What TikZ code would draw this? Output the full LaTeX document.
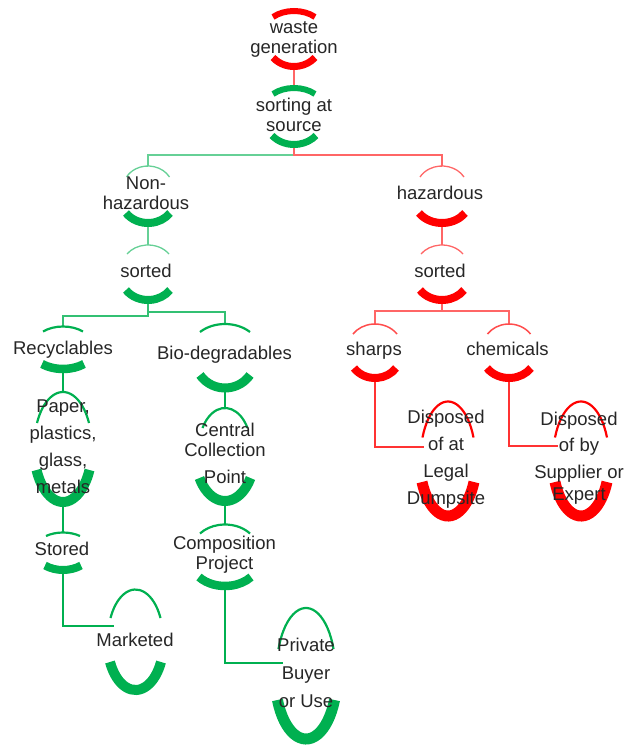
\documentclass[tikz,border=0pt]{standalone}
\usepackage{fontspec}
\setmainfont{Liberation Sans}
\usetikzlibrary{calc}
\definecolor{mgreen}{HTML}{00B050}
\definecolor{mred}{HTML}{FF0000}
\definecolor{ink}{HTML}{262626}
% strut fixing the height and depth of the first and last text line
\newcommand\lblstrut{\rule[-4.5pt]{0pt}{18pt}}
% upper arc: style, peak point, half chord, rise, parameter angle
\newcommand\toparc[5]{%
  \pgfmathsetmacro\arcrx{#3/cos(#5)}%
  \pgfmathsetmacro\arcry{#4/(1-sin(#5))}%
  \draw[#1] ($(#2)+(#3,-#4)$) arc[start angle=#5, end angle=180-#5, x radius=\arcrx, y radius=\arcry];
}
% lower arc: style, lowest point, half chord, rise, parameter angle
\newcommand\botarc[5]{%
  \pgfmathsetmacro\arcrx{#3/cos(#5)}%
  \pgfmathsetmacro\arcry{#4/(1-sin(#5))}%
  \draw[#1] ($(#2)+(-#3,#4)$) arc[start angle=180+#5, end angle=360-#5, x radius=\arcrx, y radius=\arcry];
}
\begin{document}
\begin{tikzpicture}[x=1pt,y=1pt,
  lbl/.style={align=center, inner sep=0pt, text=ink, font=\fontsize{18.5}{20}\selectfont},
  wide/.style={font=\fontsize{18.5}{26.7}\selectfont},
  glight/.style={draw=mgreen!60!white, line width=1.3},
  gmid/.style={draw=mgreen!80!white, line width=1.5},
  gline/.style={draw=mgreen, line width=2},
  rlight/.style={draw=mred!60!white, line width=1.3},
  rline/.style={draw=mred!80!white, line width=1.5},
  garc/.style={draw=mgreen},
  rarc/.style={draw=mred},
  ]
\useasboundingbox (0,0) rectangle (624,-745);

% anchor points: top and bottom of each pair of arcs
\coordinate (wg-n) at (294,-11);
\coordinate (wg-s) at (294,-66.5);
\coordinate (sa-n) at (294,-88);
\coordinate (sa-s) at (294,-144.5);
\coordinate (bus1) at (294,-155);
\coordinate (nh-n) at (148,-166);
\coordinate (nh-s) at (148,-223);
\coordinate (hz-n) at (442,-166);
\coordinate (hz-s) at (442,-223);
\coordinate (sg-n) at (148,-245);
\coordinate (sg-s) at (148,-300);
\coordinate (sr-n) at (442,-245);
\coordinate (sr-s) at (442,-300);
\coordinate (busg1) at (148,-316);
\coordinate (busg2) at (148,-312);
\coordinate (busr) at (442,-311);
\coordinate (rec-n) at (63,-326.5);
\coordinate (rec-s) at (63,-369);
\coordinate (bio-n) at (225,-324);
\coordinate (bio-s) at (225,-388);
\coordinate (pap-n) at (63,-392);
\coordinate (pap-s) at (63,-502);
\coordinate (ccp-n) at (225,-408);
\coordinate (ccp-s) at (225,-501);
\coordinate (sto-n) at (63,-532.5);
\coordinate (sto-s) at (63,-570);
\coordinate (cmp-n) at (225,-524.5);
\coordinate (cmp-s) at (225,-586);
\coordinate (mkt-n) at (135.5,-589.5);
\coordinate (mkt-s) at (135.5,-690);
\coordinate (mkt-in) at (114,-626);
\coordinate (pvt-n) at (306,-608);
\coordinate (pvt-s) at (306,-739);
\coordinate (pvt-in) at (283,-663);
\coordinate (sh-n) at (375,-324);
\coordinate (sh-s) at (375,-378);
\coordinate (ch-n) at (509,-324);
\coordinate (ch-s) at (509,-378);
\coordinate (dl-n) at (448,-401.5);
\coordinate (dl-s) at (448,-516);
\coordinate (dl-in) at (424,-447);
\coordinate (ds-n) at (581,-401.5);
\coordinate (ds-s) at (581,-516);
\coordinate (ds-in) at (558,-446);

% connectors
\draw[rlight] (wg-s) -- (sa-n);
\draw[glight] (sa-s) -- (bus1) -| (nh-n);
\draw[rlight] (sa-s) -- (bus1) -| (hz-n);
\draw[glight] (nh-s) -- (sg-n);
\draw[rlight] (hz-s) -- (sr-n);
\draw[gmid] (sg-s) -- (busg1) -| (rec-n);
\draw[gmid] (sg-s) -- (busg2) -| (bio-n);
\draw[rlight] (sr-s) -- (busr) -| (sh-n);
\draw[rlight] (sr-s) -- (busr) -| (ch-n);
\draw[gline] (rec-s) -- (pap-n);
\draw[gline] (pap-s) -- (sto-n);
\draw[gline] (bio-s) -- (ccp-n);
\draw[gline] (ccp-s) -- (cmp-n);
\draw[gline] (sto-s) |- (mkt-in);
\draw[gline] (cmp-s) |- (pvt-in);
\draw[rline] (sh-s) |- (dl-in);
\draw[rline] (ch-s) |- (ds-in);

% arcs
\toparc{rarc, line width=6}{wg-n}{21}{6}{45}
\botarc{rarc, line width=7}{wg-s}{21}{9}{40}
\toparc{garc, line width=6}{sa-n}{21}{6}{45}
\botarc{garc, line width=7}{sa-s}{22}{9}{40}

\toparc{draw=mgreen!60!white, line width=1.3}{nh-n}{21.5}{11}{30}
\botarc{garc, line width=8}{nh-s}{22}{10}{35}
\toparc{draw=mred!60!white, line width=1.3}{hz-n}{22}{11}{30}
\botarc{rarc, line width=8}{hz-s}{23}{10}{35}

\toparc{draw=mgreen!60!white, line width=1.3}{sg-n}{21}{9}{35}
\botarc{garc, line width=8}{sg-s}{22}{10}{35}
\toparc{draw=mred!60!white, line width=1.3}{sr-n}{21}{9}{35}
\botarc{rarc, line width=8}{sr-s}{22}{10}{35}

\toparc{garc, line width=2.2}{rec-n}{20}{5}{50}
\botarc{garc, line width=8.5}{rec-s}{21}{5}{50}
\toparc{garc, line width=2.2}{bio-n}{25}{8}{45}
\botarc{garc, line width=9}{bio-s}{25}{13}{35}

\toparc{garc, line width=2.2}{pap-n}{26}{31}{25}
\botarc{garc, line width=10}{pap-s}{26.5}{32}{25}
\toparc{garc, line width=2.2}{ccp-n}{22.5}{20}{30}
\botarc{garc, line width=10}{ccp-s}{25.5}{23}{30}

\toparc{garc, line width=2.2}{sto-n}{17}{3.5}{55}
\botarc{garc, line width=8}{sto-s}{18}{4.5}{55}
\toparc{garc, line width=2.2}{cmp-n}{25}{9}{40}
\botarc{garc, line width=8.5}{cmp-s}{26}{9}{40}

\toparc{garc, line width=2.2}{mkt-n}{25}{28.5}{25}
\botarc{garc, line width=10}{mkt-s}{25.5}{28}{25}
\toparc{garc, line width=2.2}{pvt-n}{27.5}{41}{20}
\botarc{garc, line width=11}{pvt-s}{28.5}{39}{22}

\toparc{draw=mred!70!white, line width=1.5}{sh-n}{22}{10}{35}
\botarc{rarc, line width=8}{sh-s}{21}{10}{35}
\toparc{draw=mred!70!white, line width=1.5}{ch-n}{21.5}{10}{35}
\botarc{rarc, line width=8}{ch-s}{22}{10}{35}

\toparc{rarc, line width=2.2}{dl-n}{25.5}{36}{22}
\botarc{rarc, line width=11}{dl-s}{26}{34}{24}
\toparc{rarc, line width=2.2}{ds-n}{26}{36}{22}
\botarc{rarc, line width=11}{ds-s}{26}{34}{24}

% labels
\node[lbl] (wg) at (294,-38.5) {\lblstrut waste\\generation\lblstrut};
\node[lbl] (sa) at (294,-116.5) {\lblstrut sorting at\\source\lblstrut};
\node[lbl] (nh) at (146,-194.5) {\lblstrut Non-\\hazardous\lblstrut};
\node[lbl] (hz) at (440,-194.5) {\lblstrut hazardous\lblstrut};
\node[lbl] (sg) at (146,-272.5) {\lblstrut sorted\lblstrut};
\node[lbl] (sr) at (440,-272.5) {\lblstrut sorted\lblstrut};
\node[lbl] (rec) at (63,-349.5) {\lblstrut Recyclables\lblstrut};
\node[lbl] (bio) at (224.5,-354.5) {\lblstrut Bio-degradables\lblstrut};
\node[lbl, wide] (pap) at (63,-448.5) {\lblstrut Paper,\\plastics,\\glass,\\metals\lblstrut};
\node[lbl] (ccp) at (225,-455) {\lblstrut Central\\Collection\\[7pt]Point\lblstrut};
\node[lbl] (sto) at (62,-550.5) {\lblstrut Stored\lblstrut};
\node[lbl] (cmp) at (224.5,-555) {\lblstrut Composition\\Project\lblstrut};
\node[lbl] (mkt) at (135,-641.5) {\lblstrut Marketed\lblstrut};
\node[lbl, font=\fontsize{18.5}{28}\selectfont] (pvt) at (306,-674.5) {\lblstrut Private\\Buyer\\or Use\lblstrut};
\node[lbl] (sh) at (374,-350.5) {\lblstrut sharps\lblstrut};
\node[lbl] (ch) at (507.5,-350.5) {\lblstrut chemicals\lblstrut};
\node[lbl, wide] (dl) at (446,-459.5) {\lblstrut Disposed\\of at\\Legal\\Dumpsite\lblstrut};
\node[lbl, font=\fontsize{18.5}{26.5}\selectfont] (ds) at (579,-458.5) {\lblstrut Disposed\\of by\\Supplier or\\[-4pt]Expert\lblstrut};
\end{tikzpicture}
\end{document}
